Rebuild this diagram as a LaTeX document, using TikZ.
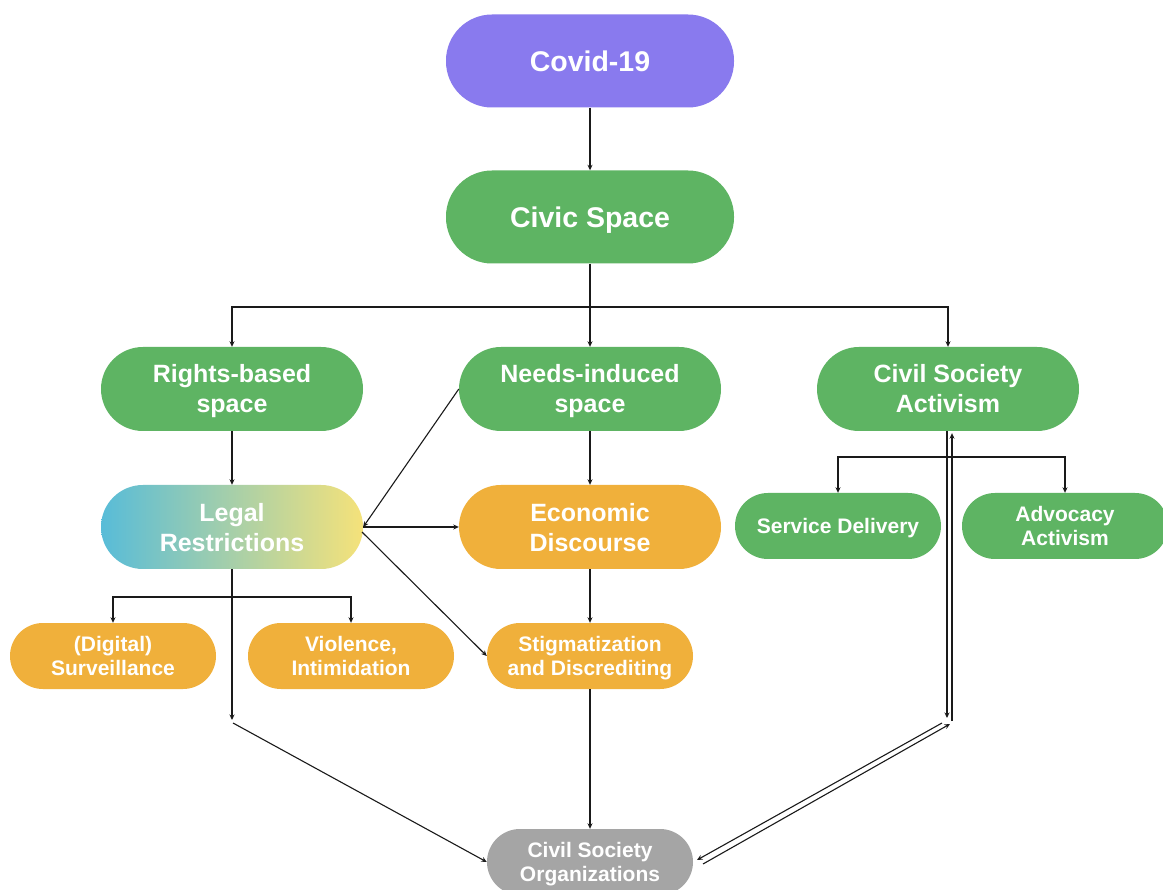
\documentclass[tikz,border=0pt]{standalone}
\usepackage{fontspec}
\setmainfont{Liberation Sans}
\usetikzlibrary{arrows.meta}
\definecolor{cpurple}{HTML}{897AEE}
\definecolor{cgreen}{HTML}{5EB463}
\definecolor{corange}{HTML}{F0B03B}
\definecolor{cgray}{HTML}{A5A5A5}
\definecolor{cblue}{HTML}{58BCD8}
\definecolor{cyellow}{HTML}{F5E27A}
\definecolor{cline}{HTML}{1A1A1A}
\begin{document}
\begin{tikzpicture}[x=1pt,y=-1pt,
  box/.style={inner sep=0pt, text=white, align=center},
  bigbox/.style={box, minimum width=288pt, minimum height=93pt, rounded corners=46pt,
    font=\fontsize{28.5}{32}\selectfont\bfseries, text height=20.5pt, text depth=0pt},
  midbox/.style={box, minimum width=262pt, minimum height=84pt, rounded corners=42pt,
    font=\fontsize{25}{30}\selectfont\bfseries, text height=48pt, text depth=0pt},
  smallbox/.style={box, minimum width=206pt, minimum height=66pt, rounded corners=33pt,
    font=\fontsize{21}{24}\selectfont\bfseries, text height=39pt, text depth=0pt},
  oneline/.style={text height=15pt},
  link/.style={draw=cline, line width=1.1pt},
  arr/.style={link, -{Stealth[length=5.5pt,width=5pt]}}]
\useasboundingbox[fill=white] (0,0) rectangle (1163,890);

\node[bigbox, fill=cpurple] (covid) at (590,61) {Covid-19};
\node[bigbox, fill=cgreen] (civic) at (590,217) {Civic Space};

\node[midbox, fill=cgreen] (rights) at (232,389) {Rights-based\\space};
\node[midbox, fill=cgreen] (needs) at (590,389) {Needs-induced\\space};
\node[midbox, fill=cgreen] (activism) at (948,389) {Civil Society\\Activism};

\node[midbox, left color=cblue, right color=cyellow, middle color=cblue!50!cyellow] (legal) at (232,527) {Legal\\Restrictions};
\node[midbox, fill=corange] (econ) at (590,527) {Economic\\Discourse};

\node[smallbox, oneline, fill=cgreen] (service) at (838,526) {Service Delivery};
\node[smallbox, fill=cgreen] (advocacy) at (1065,526) {Advocacy\\Activism};

\node[smallbox, fill=corange] (surv) at (113,656) {(Digital)\\Surveillance};
\node[smallbox, fill=corange] (viol) at (351,656) {Violence,\\Intimidation};
\node[smallbox, fill=corange] (stig) at (590,656) {Stigmatization\\and Discrediting};

\node[smallbox, fill=cgray] (cso) at (590,862) {Civil Society\\Organizations};

% junctions
\coordinate (jcivic) at (590,307);
\coordinate (jlegal) at (232,597);
\coordinate (jact) at (948,457);
\coordinate (lbend) at (232,720);
\coordinate (lbend2) at (233,723);
\coordinate (rdown) at (947,718);
\coordinate (rdown2) at (942,723);
\coordinate (rup) at (950,724);
\coordinate (rup2) at (952,721);
\coordinate (csoin) at (697,860);
\coordinate (csoout) at (703,864);
\coordinate (legalout) at (362,532);

\draw[arr] (covid.south) -- (civic.north);
\draw[link] (civic.south) -- (jcivic);
\draw[arr] (jcivic) -| (rights.north);
\draw[arr] (jcivic) -| (activism.north);
\draw[arr] (jcivic) -- (needs.north);

\draw[arr] (rights.south) -- (legal.north);
\draw[arr] (needs.south) -- (econ.north);
\draw[arr] (needs.west) -- (legal.east);
\draw[arr] (legal.east) -- (econ.west);
\draw[arr] (legalout) -- (stig.west);
\draw[arr] (econ.south) -- (stig.north);
\draw[arr] (stig.south) -- (cso.north);

\draw[arr] (legal.south) -- (lbend);
\draw[arr] (jlegal) -| (surv.north);
\draw[arr] (jlegal) -| (viol.north);
\draw[arr] (lbend2) -- (cso.west);

\draw[link] ([xshift=-1pt]activism.south) -- ([xshift=-1pt]jact);
\draw[arr] (jact) -| (service.north);
\draw[arr] (jact) -| (advocacy.north);

\draw[arr] ([xshift=-1pt]activism.south) -- (rdown);
\draw[arr] (rdown2) -- (csoin);
\draw[arr] (csoout) -- (rup);
\draw[arr] (rup2) -- ([xshift=4pt,yshift=-2pt]activism.south);
\end{tikzpicture}
\end{document}
